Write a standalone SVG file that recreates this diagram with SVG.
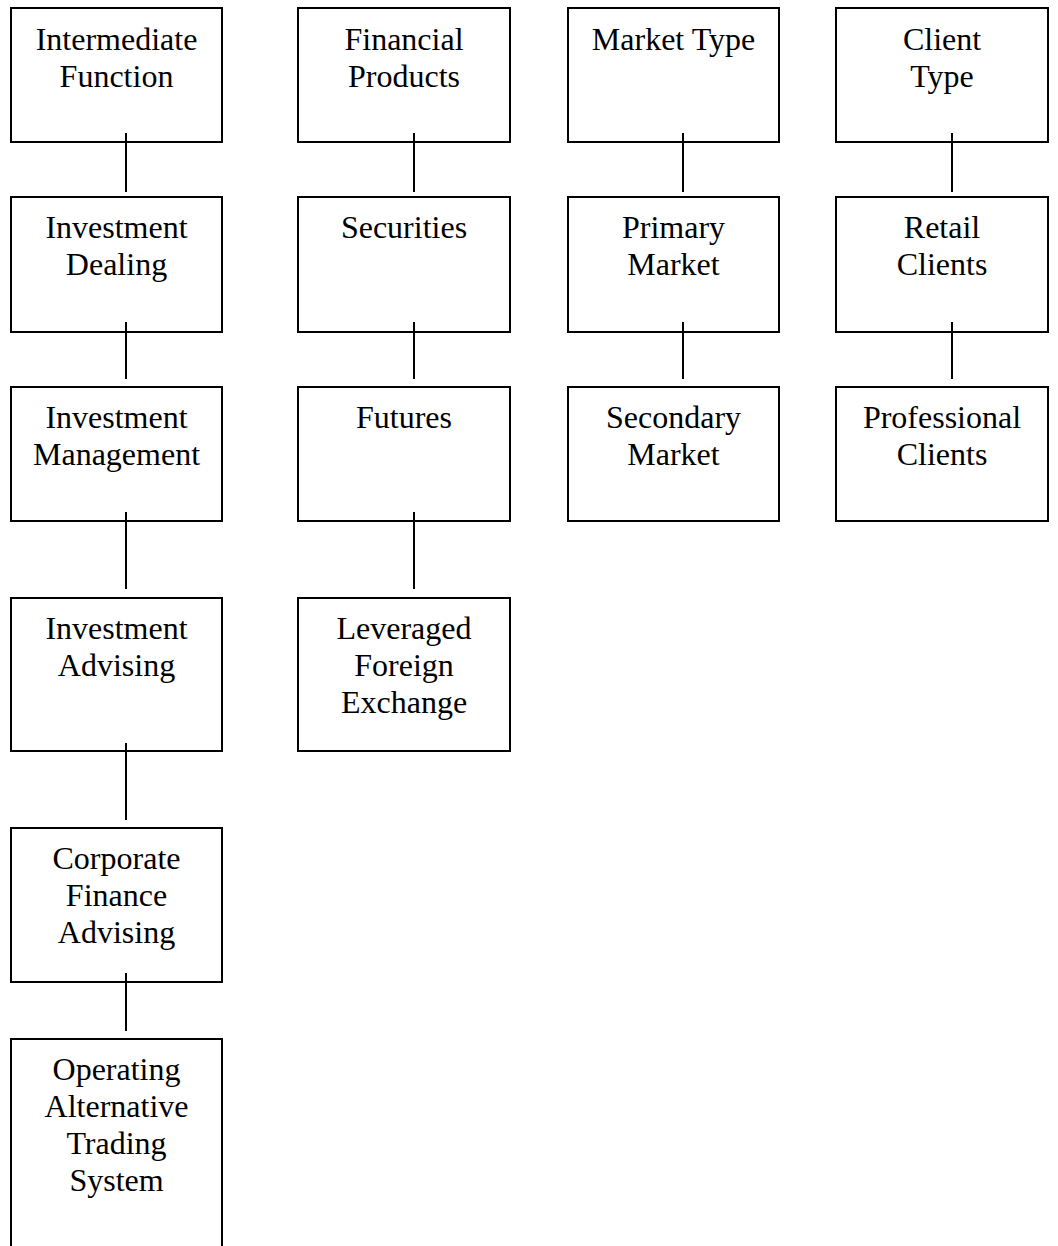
<svg xmlns="http://www.w3.org/2000/svg" width="1058" height="1246" viewBox="0 0 1058 1246">
<style>
.b{fill:#fff;stroke:#000;stroke-width:2}
.t{font-family:"Liberation Serif","Times New Roman",serif;font-size:32px;fill:#000;text-anchor:middle}
.c line{stroke:#000;stroke-width:2}
</style>
<rect width="1058" height="1246" fill="#fff"/>
<g id="n-intermediate"><rect class="b" x="11" y="8" width="211" height="134"/><text class="t" x="116.5" y="50">Intermediate</text><text class="t" x="116.5" y="87">Function</text></g>
<g id="n-dealing"><rect class="b" x="11" y="197" width="211" height="135"/><text class="t" x="116.5" y="238">Investment</text><text class="t" x="116.5" y="275">Dealing</text></g>
<g id="n-management"><rect class="b" x="11" y="387" width="211" height="134"/><text class="t" x="116.5" y="428">Investment</text><text class="t" x="116.5" y="465">Management</text></g>
<g id="n-advising"><rect class="b" x="11" y="598" width="211" height="153"/><text class="t" x="116.5" y="639">Investment</text><text class="t" x="116.5" y="676">Advising</text></g>
<g id="n-corporate"><rect class="b" x="11" y="828" width="211" height="154"/><text class="t" x="116.5" y="869">Corporate</text><text class="t" x="116.5" y="906">Finance</text><text class="t" x="116.5" y="943">Advising</text></g>
<g id="n-ats"><rect class="b" x="11" y="1039" width="211" height="240"/><text class="t" x="116.5" y="1080">Operating</text><text class="t" x="116.5" y="1117">Alternative</text><text class="t" x="116.5" y="1154">Trading</text><text class="t" x="116.5" y="1191">System</text></g>

<g id="n-financial"><rect class="b" x="298" y="8" width="212" height="134"/><text class="t" x="404" y="50">Financial</text><text class="t" x="404" y="87">Products</text></g>
<g id="n-securities"><rect class="b" x="298" y="197" width="212" height="135"/><text class="t" x="404" y="238">Securities</text></g>
<g id="n-futures"><rect class="b" x="298" y="387" width="212" height="134"/><text class="t" x="404" y="428">Futures</text></g>
<g id="n-forex"><rect class="b" x="298" y="598" width="212" height="153"/><text class="t" x="404" y="639">Leveraged</text><text class="t" x="404" y="676">Foreign</text><text class="t" x="404" y="713">Exchange</text></g>

<g id="n-market"><rect class="b" x="568" y="8" width="211" height="134"/><text class="t" x="673.5" y="50">Market Type</text></g>
<g id="n-primary"><rect class="b" x="568" y="197" width="211" height="135"/><text class="t" x="673.5" y="238">Primary</text><text class="t" x="673.5" y="275">Market</text></g>
<g id="n-secondary"><rect class="b" x="568" y="387" width="211" height="134"/><text class="t" x="673.5" y="428">Secondary</text><text class="t" x="673.5" y="465">Market</text></g>

<g id="n-client"><rect class="b" x="836" y="8" width="212" height="134"/><text class="t" x="942" y="50">Client</text><text class="t" x="942" y="87">Type</text></g>
<g id="n-retail"><rect class="b" x="836" y="197" width="212" height="135"/><text class="t" x="942" y="238">Retail</text><text class="t" x="942" y="275">Clients</text></g>
<g id="n-professional"><rect class="b" x="836" y="387" width="212" height="134"/><text class="t" x="942" y="428">Professional</text><text class="t" x="942" y="465">Clients</text></g>

<g id="connectors" class="c">
<line x1="126" y1="133" x2="126" y2="192"/>
<line x1="126" y1="322" x2="126" y2="379"/>
<line x1="126" y1="512" x2="126" y2="589"/>
<line x1="126" y1="743" x2="126" y2="820"/>
<line x1="126" y1="973" x2="126" y2="1031"/>
<line x1="414" y1="133" x2="414" y2="192"/>
<line x1="414" y1="322" x2="414" y2="379"/>
<line x1="414" y1="512" x2="414" y2="589"/>
<line x1="683" y1="133" x2="683" y2="192"/>
<line x1="683" y1="322" x2="683" y2="379"/>
<line x1="952" y1="133" x2="952" y2="192"/>
<line x1="952" y1="322" x2="952" y2="379"/>
</g>
</svg>
